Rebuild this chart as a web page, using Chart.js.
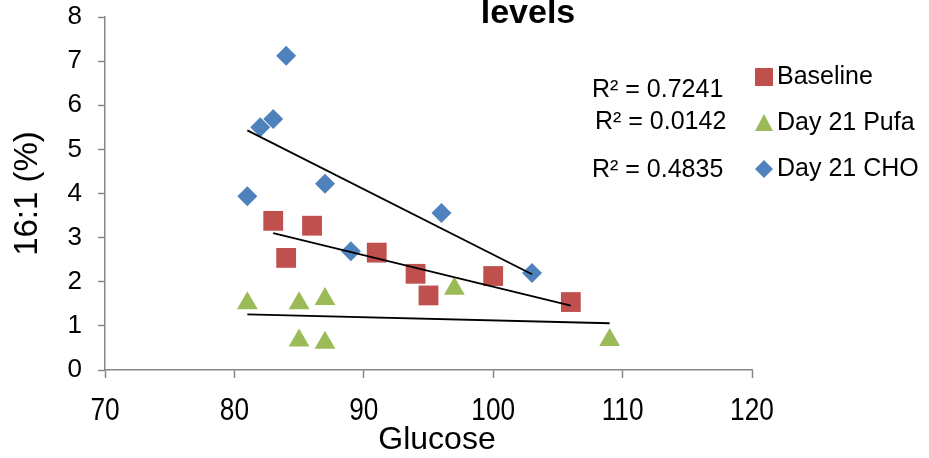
<!DOCTYPE html>
<html>
<head>
<meta charset="utf-8">
<script src="https://cdn.jsdelivr.net/npm/chart.js@4.4.1/dist/chart.umd.min.js"></script>
<style>
  html, body { margin: 0; padding: 0; background: #fff; }
</style>
</head>
<body>
<canvas id="myChart" width="929" height="458"></canvas>
<script>
const xTicks = [70, 80, 90, 100, 110, 120];
const yTicks = [0, 1, 2, 3, 4, 5, 6, 7, 8];

const seriesNames = ["Baseline", "Day 21 Pufa", "Day 21 CHO"];

const baselineGlucose = [83, 86, 84, 91, 94, 95, 100, 106];
const baselineValues = [3.38, 3.27, 2.54, 2.66, 2.18, 1.69, 2.13, 1.54];

const pufaGlucose = [81, 85, 87, 85, 87, 97, 109];
const pufaValues = [1.51, 1.51, 1.61, 0.67, 0.62, 1.84, 0.68];

const choGlucose = [84, 83, 82, 87, 81, 96, 103, 89];
const choValues = [7.12, 5.69, 5.5, 4.22, 3.94, 3.56, 2.2, 2.69];

// linear trendline end points (glucose, value)
const baselineTrend = [[83, 3.1], [106, 1.46]];
const pufaTrend = [[81, 1.26], [109, 1.06]];
const choTrend = [[81, 5.43], [103, 2.17]];

const rSquaredLabels = ["R² = 0.7241", "R² = 0.0142", "R² = 0.4835"];

const colors = ["#C0504D", "#9BBB59", "#4F81BD"];
const markers = ["rect", "triangle", "rectRot"];
const markerSizes = [14, 12, 10];

const FONT = "'Liberation Sans', Arial, sans-serif";
Chart.defaults.font.family = FONT;
Chart.defaults.color = "#000";

const toPoints = (xs, ys) => xs.map((x, i) => ({ x: x, y: ys[i] }));
const toLine = (pairs) => pairs.map((p) => ({ x: p[0], y: p[1] }));

const pointSets = [
  toPoints(baselineGlucose, baselineValues),
  toPoints(pufaGlucose, pufaValues),
  toPoints(choGlucose, choValues),
];
const trendSets = [baselineTrend, pufaTrend, choTrend];

const datasets = [];
pointSets.forEach((pts, i) => {
  datasets.push({
    label: seriesNames[i],
    data: pts,
    pointStyle: markers[i],
    pointRadius: markerSizes[i],
    pointHoverRadius: markerSizes[i],
    backgroundColor: colors[i],
    borderColor: colors[i],
    borderWidth: 0,
    order: 1,
  });
});
trendSets.forEach((pairs, i) => {
  datasets.push({
    label: seriesNames[i] + " trend",
    data: toLine(pairs),
    showLine: true,
    pointRadius: 0,
    borderColor: "#000",
    borderWidth: 1.8,
    order: 0,
  });
});

// title line, x axis labels, R² labels and legend
const annotations = {
  id: "annotations",
  afterDraw(chart) {
    const ctx = chart.ctx;
    ctx.save();
    ctx.fillStyle = "#000";
    ctx.textBaseline = "alphabetic";
    ctx.textAlign = "center";
    ctx.font = "bold 34px " + FONT;
    ctx.fillText("levels", 528, 23);

    ctx.textBaseline = "middle";
    ctx.font = "32px " + FONT;
    ctx.fillText("Glucose", 437, 440);

    // condensed x tick labels
    const xScale = chart.scales.x;
    xTicks.forEach((v) => {
      ctx.save();
      ctx.translate(xScale.getPixelForValue(v), 411);
      ctx.scale(0.82, 1);
      ctx.fillText(String(v), 0, 0);
      ctx.restore();
    });

    ctx.textAlign = "left";
    ctx.font = "25px " + FONT;
    ctx.fillText(rSquaredLabels[0], 592, 90);
    ctx.fillText(rSquaredLabels[1], 595, 122);
    ctx.fillText(rSquaredLabels[2], 592, 170);

    const rows = [77, 123, 169];
    rows.forEach((y, i) => {
      const cx = 764;
      ctx.fillStyle = colors[i];
      ctx.beginPath();
      if (i === 0) {
        ctx.rect(cx - 9, y - 9, 18, 18);
      } else if (i === 1) {
        ctx.moveTo(cx, y - 9);
        ctx.lineTo(cx + 9, y + 8);
        ctx.lineTo(cx - 9, y + 8);
        ctx.closePath();
      } else {
        ctx.moveTo(cx, y - 9);
        ctx.lineTo(cx + 9, y);
        ctx.lineTo(cx, y + 9);
        ctx.lineTo(cx - 9, y);
        ctx.closePath();
      }
      ctx.fill();
      ctx.fillStyle = "#000";
      ctx.fillText(seriesNames[i], 777, y);
    });
    ctx.restore();
  },
};

const axisGrey = "#868686";

const myChart = new Chart(document.getElementById("myChart"), {
  type: "scatter",
  data: { datasets: datasets },
  options: {
    responsive: false,
    animation: false,
    layout: { padding: { top: 17, right: 177, left: 0, bottom: 0 } },
    plugins: {
      legend: { display: false },
      tooltip: { enabled: false },
    },
    scales: {
      x: {
        type: "linear",
        min: xTicks[0],
        max: xTicks[xTicks.length - 1],
        afterBuildTicks: (axis) => {
          axis.ticks = xTicks.map((v) => ({ value: v }));
        },
        afterFit: (axis) => {
          axis.height = 88;
          axis.paddingLeft = 0;
          axis.paddingRight = 0;
        },
        grid: {
          drawOnChartArea: false,
          drawTicks: true,
          tickLength: 8,
          tickColor: axisGrey,
          tickWidth: 1.5,
        },
        border: { color: axisGrey, width: 1.5 },
        ticks: { display: false },
        title: { display: false },
      },
      y: {
        type: "linear",
        min: yTicks[0],
        max: yTicks[yTicks.length - 1],
        afterBuildTicks: (axis) => {
          axis.ticks = yTicks.map((v) => ({ value: v }));
        },
        afterFit: (axis) => {
          axis.width = 105;
          axis.paddingTop = 0;
          axis.paddingBottom = 0;
        },
        grid: {
          drawOnChartArea: false,
          drawTicks: true,
          tickLength: 7,
          tickColor: axisGrey,
          tickWidth: 1.5,
        },
        border: { color: axisGrey, width: 1.5 },
        ticks: { font: { size: 26 }, padding: 16 },
        title: {
          display: true,
          text: "16:1 (%)",
          font: { size: 33 },
          padding: { top: 8, bottom: 0 },
        },
      },
    },
  },
  plugins: [annotations],
});
</script>
</body>
</html>
